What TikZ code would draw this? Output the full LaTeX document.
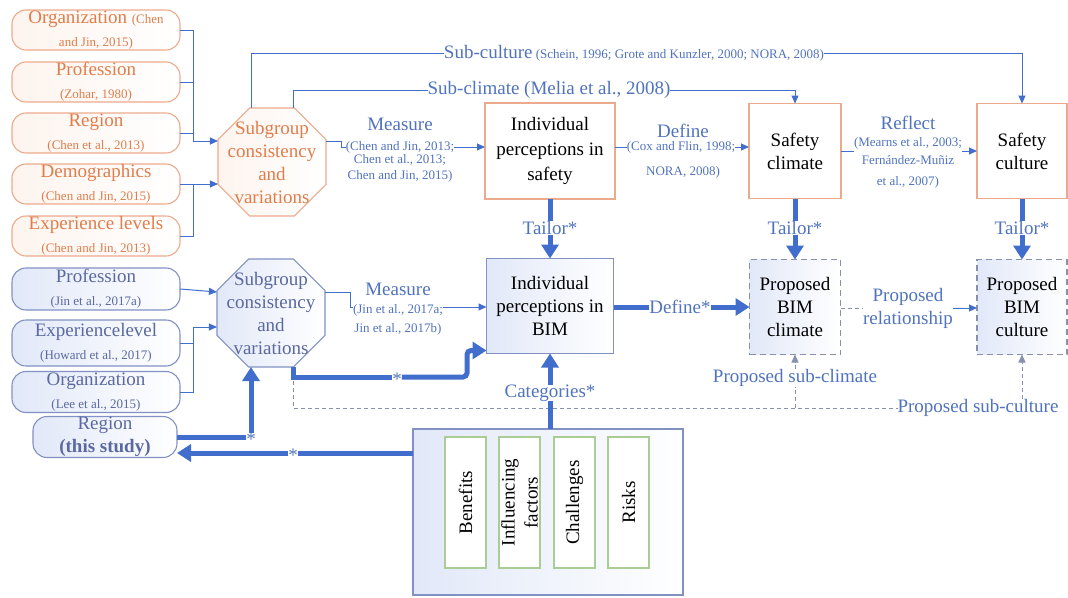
\documentclass[tikz,border=0pt]{standalone}
\usepackage{fontspec}
\setmainfont{Liberation Serif}
\usetikzlibrary{shapes.geometric,arrows.meta,calc}
\definecolor{oline}{RGB}{236,170,140}
\definecolor{otext}{RGB}{224,125,75}
\definecolor{bline}{RGB}{65,110,205}
\definecolor{btext}{RGB}{80,115,190}
\definecolor{bbox}{RGB}{130,145,195}
\definecolor{bbtext}{RGB}{90,105,160}
\definecolor{gline}{RGB}{170,205,150}
\definecolor{dgray}{RGB}{135,145,175}
\definecolor{bfill}{RGB}{225,232,248}
\definecolor{ofill}{RGB}{253,244,238}
\newcommand\fM{\fontsize{19}{23}\selectfont}
\newcommand\fC{\fontsize{13}{16}\selectfont}
\begin{document}
\begin{tikzpicture}[x=1pt,y=-1pt,
  every node/.style={inner sep=0pt, outer sep=0pt, font=\fM},
  obox/.style={draw=oline, line width=1.1pt, rounded corners=14pt, minimum width=168pt, minimum height=40pt, align=center, text=otext, left color=ofill, right color=white},
  lbox/.style={draw=bbox, line width=1.1pt, rounded corners=14pt, minimum width=168pt, align=center, text=bbtext, left color=bfill, right color=white},
  octo/.style={regular polygon, regular polygon sides=8, minimum size=117pt, line width=1.1pt},
  mbox/.style={draw=oline, line width=1.2pt, align=center, text=black, fill=white},
  bimbox/.style={draw=bbox, line width=1.1pt, align=center, text=black, left color=bfill, right color=white},
  pbox/.style={draw=dgray, dash pattern=on 6pt off 4pt, line width=1.1pt, align=center, text=black, left color=bfill, right color=white},
  lab/.style={text=btext, align=center},
  cit/.style={text=btext, font=\fC, align=center},
  tl/.style={draw=bline, line width=1pt},
  tarr/.style={tl, -{Triangle[width=7pt,length=8pt]}},
  thk/.style={draw=bline, line width=5pt},
  tharr/.style={thk, -{Triangle[width=17pt,length=14pt]}},
  dsh/.style={draw=dgray, line width=1pt, dash pattern=on 4pt off 3pt},
  catcell/.style={draw=gline, line width=1.1pt, fill=white, rotate=90, minimum width=131pt, minimum height=41pt, align=center, text=black},
]
\useasboundingbox (0,0) rectangle (1068,597);

% ---------- upper left (orange) ----------
\node[obox] (o1) at (96,30) {Organization {\fC(Chen}\\{\fC and Jin, 2015)}};
\node[obox] (o2) at (96,82) {Profession\\{\fC(Zohar, 1980)}};
\node[obox] (o3) at (96,133) {Region\\{\fC(Chen et al., 2013)}};
\node[obox] (o4) at (96,184) {Demographics\\{\fC(Chen and Jin, 2015)}};
\node[obox] (o5) at (96,236) {Experience levels\\{\fC(Chen and Jin, 2013)}};

\node[octo, draw=oline, left color=ofill, right color=white] (s1) at (272,162) {};
\node[text=otext, align=center] (s1t) at (s1.center) {Subgroup\\consistency\\and\\variations};

\coordinate (j1) at (193,141);
\draw[tl] (o1.east) -| (j1);
\draw[tl] (o2.east) -- (o2.east -| j1);
\draw[tl] (o3.east) -- (o3.east -| j1);
\draw[tarr] (j1) -- (s1.west |- j1);
\coordinate (j2) at (193,184);
\draw[tl] (o5.east) -| (j2);
\draw[tl] (o4.east) -- (j2);
\draw[tarr] (j2) -- (s1.west |- j2);

% ---------- upper row ----------
\node[mbox, minimum width=130pt, minimum height=96pt] (ips) at (550,151) {Individual\\[2pt]perceptions in\\[2pt]safety};
\node[mbox, minimum width=92pt, minimum height=95pt] (scl) at (795,151) {Safety\\climate};
\node[mbox, minimum width=90pt, minimum height=95pt] (scu) at (1022,151) {Safety\\culture};

\node[lab, fill=white] (sculab) at (634,53) {Sub-culture\,{\fC(Schein, 1996; Grote and Kunzler, 2000; NORA, 2008)}};
\node[lab, fill=white] (scllab) at (549,90) {Sub-climate (Melia et al., 2008)};
\draw[tl] ($(s1.north)+(-21,0)$) |- (sculab.west);
\draw[tarr] (sculab.east) -| (scu.north);
\draw[tl] ($(s1.north)+(21,0)$) |- (scllab.west);
\draw[tarr] (scllab.east) -| (scl.north);

\node[lab] (m1) at (400,124) {Measure};
\node[cit] (m1a) at (400,147) {(Chen and Jin, 2013;};
\node[cit] (m1b) at (400,168.5) {Chen et al., 2013;\\Chen and Jin, 2015)};
\draw[tl] ($(s1.east)+(0,-21)$) -| ($(m1a.west)+(-4,0)$) -- (m1a.west);
\draw[tarr] (m1a.east) -- (ips.west |- m1a.east);

\node[lab] (d1) at (683,131) {Define};
\node[cit] (d1a) at (681,147) {(Cox and Flin, 1998;};
\node[cit] (d1b) at (683,172) {NORA, 2008)};
\draw[tl] (ips.east |- d1a) -- (d1a.west);
\draw[tarr] (d1a.east) -- (scl.west |- d1a);

\node[lab] (r1) at (908,123) {Reflect};
\node[cit] (r1a) at (908,143) {(Mearns et al., 2003;};
\node[cit] (r1b) at (908,160) {Fernández-Muñiz};
\node[cit] (r1c) at (908,182) {et al., 2007)};
\draw[tl] (scl.east) -- (r1a.west |- scl.east);
\draw[tarr] (r1a.east |- scu.west) -- (scu.west);

% ---------- tailor ----------
\node[lab] (t1) at (550,228) {Tailor*};
\node[lab] (t2) at (795,228) {Tailor*};
\node[lab] (t3) at (1022,228) {Tailor*};

% ---------- lower row ----------
\node[bimbox, minimum width=127pt, minimum height=95pt] (ipb) at (550,306) {Individual\\perceptions in\\BIM};
\node[pbox, minimum width=91pt, minimum height=95pt] (pbc) at (795,307) {Proposed\\BIM\\climate};
\node[pbox, minimum width=90pt, minimum height=95pt] (pbcu) at (1022,307) {Proposed\\BIM\\culture};

\draw[thk] (ips.south) -- (t1.north);
\draw[tharr] (t1.south) -- (ipb.north);
\draw[thk] (scl.south) -- (t2.north);
\draw[tharr] (t2.south) -- (pbc.north);
\draw[thk] (scu.south) -- (t3.north);
\draw[tharr] (t3.south) -- (pbcu.north);

\node[lab] (d2) at (680,307) {Define*};
\draw[thk] (ipb.east |- d2) -- (d2.west);
\draw[tharr] (d2.east) -- (pbc.west |- d2);

\node[lab] (pr) at (908,308) {Proposed\\relationship};
\draw[dsh] (pbc.east |- pr) -- (pr.west);
\draw[tarr] (pr.east) -- (pbcu.west |- pr);

% ---------- lower left (blue) ----------
\node[lbox, minimum height=42pt] (p2) at (96,289) {Profession\\{\fC(Jin et al., 2017a)}};
\node[lbox, minimum height=46pt] (e2) at (96,343) {Experiencelevel\\{\fC(Howard et al., 2017)}};
\node[lbox, minimum height=41pt] (g2) at (96,392) {Organization\\{\fC(Lee et al., 2015)}};
\node[lbox, minimum width=144pt, minimum height=41pt] (reg2) at (105,437) {Region\\{\bfseries (this study)}};

\node[octo, draw=bbox, left color=bfill, right color=white] (s2) at (271,313) {};
\node[text=bbtext, align=center] (s2t) at (s2.center) {Subgroup\\consistency\\and\\variations};

\draw[tarr] (p2.east) -- ($(s2.west)+(0,-21)$);
\coordinate (j3) at (193,327);
\draw[tl] (g2.east) -| (j3);
\draw[tl] (e2.east) -- (e2.east -| j3);
\draw[tarr] (j3) -- (s2.west |- j3);

\node[lab] (m2) at (398,289) {Measure};
\node[cit] (m2a) at (398,310) {(Jin et al., 2017a;};
\node[cit] (m2b) at (398,329) {Jin et al., 2017b)};
\draw[tl] ($(s2.east)+(0,-21)$) -| ($(m2a.west)+(-3,-3)$) -- ($(m2a.west)+(0,-3)$);
\draw[tarr] ($(m2a.east)+(0,-3)$) -- (ipb.west |- 0,307);

% ---------- dashed proposed sub-links ----------
\node[lab, fill=white] (psc) at (978,408) {Proposed sub-culture};
\node[lab, fill=white] (pscl) at (795,378) {Proposed sub-climate};
\draw[dsh] ($(s2.south)+(22,0)$) |- (psc.west);
\draw[dsh] (pscl.south |- psc.west) -- (pscl.south);
\draw[dsh, -{Triangle[width=7pt,length=8pt]}] (pscl.north) -- (pbc.south);
\draw[dsh, -{Triangle[width=7pt,length=8pt]}] (pbcu.south |- psc.north) -- (pbcu.south);

% ---------- thick links ----------
\node[lab] (st1) at (397,379) {*};
\coordinate (c1) at (467,377);
\draw[thk] ($(s2.south)+(22,0)$) |- (st1.west |- c1);
\draw[tharr, rounded corners=4pt] (st1.east |- c1) -- (c1) |- ($(ipb.south west)+(0,-3)$);

% ---------- categories ----------
\node[draw=bbox, line width=1.1pt, minimum width=270pt, minimum height=166pt, left color=bfill, right color=white] (cb) at (548,512) {};
\node[catcell] (c1b) at (465.5,502.5) {Benefits};
\node[catcell] (c2b) at (519.5,502.5) {Influencing\\factors};
\node[catcell] (c3b) at (574.5,502.5) {Challenges};
\node[catcell] (c4b) at (628.5,502.5) {Risks};

\node[lab] (cat) at (550,393) {Categories*};
\draw[thk] (cat.south |- cb.north) -- (cat.south);
\draw[tharr] (cat.north) -- (cat.north |- ipb.south);

\node[lab] (st3) at (293,455) {*};
\draw[thk] ($(cb.north west)+(0,24)$) -- (st3.east |- 0,453);
\draw[tharr] (st3.west |- 0,453) -- (reg2.east |- 0,453);

\node[lab] (st2) at (251,439) {*};
\draw[thk] (reg2.east) -- (st2.west |- reg2.east);
\draw[tharr] (st2.north) -- (st2.north |- s2.south);
\end{tikzpicture}
\end{document}
